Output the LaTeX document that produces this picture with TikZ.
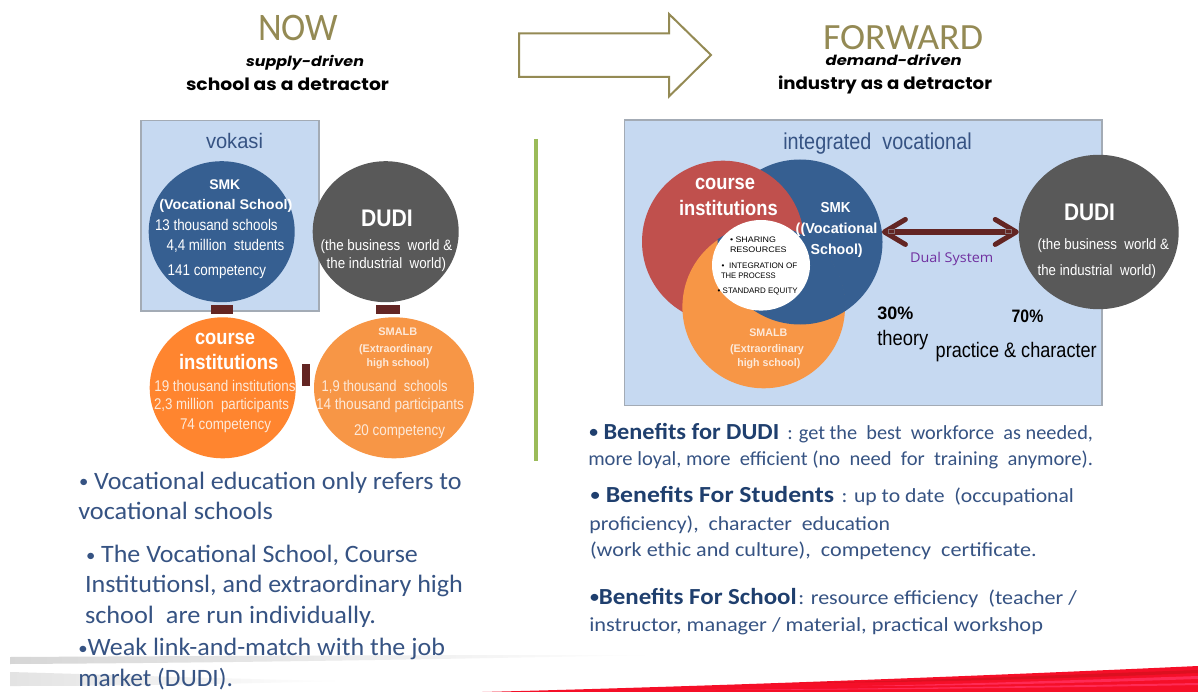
\documentclass[tikz,border=0pt]{standalone}
\usepackage{fontspec}
\usepackage{graphicx}
\usetikzlibrary{shapes.geometric,arrows.meta,calc}
\setmainfont{Liberation Sans}
\newfontfamily\carl{Carlito}
\newfontfamily\popp{Poppins}
\newfontfamily\opns{Open Sans}
\definecolor{olive}{HTML}{948A54}
\definecolor{bluec}{HTML}{365F91}
\definecolor{greyc}{HTML}{595959}
\definecolor{orangeA}{HTML}{FF852F}
\definecolor{orangeB}{HTML}{F79646}
\definecolor{redc}{HTML}{C0504D}
\definecolor{panel}{HTML}{C6D9F1}
\definecolor{panelb}{HTML}{A3ABB5}
\definecolor{maroon}{HTML}{632523}
\definecolor{pale}{HTML}{FDE9D9}
\definecolor{greenl}{HTML}{9BBB59}
\definecolor{bodyb}{HTML}{365383}
\definecolor{boldb}{HTML}{1F3F6E}
\definecolor{purp}{HTML}{7030A0}
\definecolor{swoosh}{HTML}{F50F28}
\definecolor{swooshA}{HTML}{FF2A55}
\definecolor{swooshB}{HTML}{DC1020}
\tikzset{
  txt/.style={anchor=base west,inner sep=0pt,outer sep=0pt},
  ar/.style={font=\fontsize{#1}{#1}\selectfont},
  arb/.style={font=\bfseries\fontsize{#1}{#1}\selectfont},
  car/.style={font=\carl\fontsize{#1}{#1}\selectfont},
  carb/.style={font=\carl\bfseries\fontsize{#1}{#1}\selectfont},
  blob/.style={ellipse,inner sep=0pt,outer sep=0pt,draw=none},
  panelbox/.style={fill=panel,draw=panelb,line width=1.6pt},
  barlink/.style={draw=maroon},
  bodyt/.style={car=#1,text=bodyb},
  boldt/.style={carb=#1,text=boldb},
  onc/.style={ar=#1,text=white},
  onp/.style={ar=#1,text=pale}
}
\newcommand\tl[6]{\node[txt,#5] (#1) at (#2,#3) {\resizebox{#4pt}{\height}{#6}};}
\newcommand\mbul{\raisebox{.12ex}{\scalebox{.72}{•}}}
\begin{document}
\begin{tikzpicture}[x=1pt,y=-1pt]
\useasboundingbox (0,0) rectangle (1198,692);
\fill[white] (0,0) rectangle (1198,692);
% bottom swoosh
\shade[left color=black!16,right color=white] (10,657) -- (10,664) .. controls (200,663) and (400,660) .. (652,655) .. controls (400,655) and (200,656) .. (10,657) -- cycle;
\shade[left color=black!11,right color=white] (10,672) -- (10,686) .. controls (120,686) and (230,684) .. (340,681) .. controls (230,679) and (120,675) .. (10,672) -- cycle;
\fill[swoosh] (482,692) .. controls (720,686) and (980,676) .. (1198,666) -- (1198,692) -- cycle;
\fill[swooshB] (800,683) .. controls (950,680) and (1080,674) .. (1198,670) -- (1198,673) .. controls (1080,678) and (950,682) .. (800,683) -- cycle;
\fill[swooshA] (860,686) .. controls (960,684) and (1080,680) .. (1198,676) -- (1198,679) .. controls (1080,683) and (960,686) .. (860,686) -- cycle;
\fill[swooshA] (700,690) .. controls (860,689) and (1040,686) .. (1198,683) -- (1198,685) .. controls (1040,688) and (860,690) .. (700,690) -- cycle;
% top
\tl{tNow}{258}{41}{80}{car=39,text=olive}{NOW}
\tl{tSupply}{246}{67}{118}{font=\popp\bfseries\itshape\fontsize{14}{14}\selectfont}{supply-driven}
\tl{tSchool}{186}{91}{203}{font=\popp\bfseries\fontsize{17}{17}\selectfont}{school as a detractor}
\tl{tForward}{823}{49.3}{160}{car=37,text=olive}{FORWARD}
\tl{tDemand}{825.7}{65.7}{136}{font=\popp\bfseries\itshape\fontsize{14}{14}\selectfont}{demand-driven}
\tl{tIndustry}{778}{90}{214}{font=\popp\bfseries\fontsize{17}{17}\selectfont}{industry as a detractor}
\draw[olive,line width=2pt,line join=miter,fill=white] (519,33.5) -- (669,33.5) -- (669,14) -- (711,55) -- (669,96.5) -- (669,77) -- (519,77) -- cycle;
\draw[greenl,line width=3.6pt] (536,139) -- (536,461);
% left panel
\fill[panelbox] (141,120.5) rectangle (319,311);
\tl{tVok}{206}{149}{57}{ar=21,text=bodyb}{vokasi}
\node[blob,fill=bluec,minimum width=146pt,minimum height=141pt] (smkL) at (221.7,231.7) {};
\node[blob,fill=greyc,minimum width=146pt,minimum height=141pt] (dudiL) at (385.7,231.7) {};
\node[blob,fill=orangeA,minimum width=146pt,minimum height=141pt] (courseL) at (222.7,387.8) {};
\node[blob,fill=orangeB,minimum width=160pt,minimum height=141pt] (smalbL) at (394,387.8) {};
\draw[barlink,line width=24pt] ([xshift=2.6pt,yshift=-3pt]dudiL.south) -- ([xshift=-5.7pt,yshift=3.2pt]smalbL.north);
\draw[barlink,line width=22pt] ([yshift=-3pt]smkL.south) -- ([xshift=-1pt,yshift=3.2pt]courseL.north);
\draw[barlink,line width=22pt] ([yshift=13pt,xshift=6.7pt]courseL.east) -- ([yshift=13pt,xshift=-4pt]smalbL.west);
\tl{a1}{209.3}{189.3}{31}{arb=14,text=white}{SMK}
\tl{a2}{159.3}{210}{133}{arb=14,text=white}{(Vocational School)}
\tl{a3}{155}{230.7}{122.7}{onc=15.5}{13 thousand schools}
\tl{a4}{166.7}{250.3}{117.6}{onc=15.5}{4,4 million\ \ students}
\tl{a5}{167.7}{275.7}{98.3}{onc=15.5}{141 competency}
\tl{b1}{361}{226.7}{51.7}{arb=24,text=white}{DUDI}
\tl{b2}{320.7}{250.3}{131.6}{onc=15}{(the business\ \ world \&}
\tl{b3}{326.7}{268.3}{119.3}{onc=15}{the industrial\ \ world)}
\tl{c1}{195}{344.3}{60}{arb=21,text=white}{course}
\tl{c2}{179}{369.3}{99.3}{arb=21,text=white}{institutions}
\tl{c3}{154.3}{391}{141.4}{onp=15.5}{19 thousand institutions}
\tl{c4}{154}{409.3}{135}{onp=15.5}{2,3 million\ \ participants}
\tl{c5}{180}{429}{91}{onp=15.5}{74 competency}
\tl{d1}{378.3}{335.7}{39}{arb=11,text=pale}{SMALB}
\tl{d2}{359}{352.7}{73.7}{arb=11,text=pale}{(Extraordinary}
\tl{d3}{366.7}{366.7}{62.6}{arb=11,text=pale}{high school)}
\tl{d4}{321.7}{391}{126}{onp=15.5}{1,9 thousand\ \ schools}
\tl{d5}{316}{409.3}{148}{onp=15.5}{14 thousand participants}
\tl{d6}{354}{435}{91}{onp=15.5}{20 competency}
% left text
\tl{l1}{79}{489.3}{382.7}{bodyt=25}{\mbul\ Vocational education only refers to}
\tl{l2}{78.3}{519.3}{194.7}{bodyt=25}{vocational schools}
\tl{l3}{86}{562.7}{332}{bodyt=25}{\mbul\ The Vocational School, Course}
\tl{l4}{85}{592.7}{378}{bodyt=25}{Institutionsl, and extraordinary high}
\tl{l5}{85}{623.3}{291}{bodyt=25}{school\ \ are run individually.}
\tl{l6}{78.3}{655.7}{366.7}{bodyt=25}{\mbul Weak link-and-match with the job}
\tl{l7}{78.3}{686}{154.7}{bodyt=25}{market (DUDI).}
% right panel
\fill[panelbox] (624.5,120) rectangle (1102,405.5);
\tl{tInt}{783.3}{150}{188.4}{ar=23,text=bodyb}{integrated\ \ vocational}
\node[blob,fill=bluec,minimum width=165pt,minimum height=165pt] (smkR) at (800,242) {};
\node[blob,fill=redc,minimum width=162pt,minimum height=162pt] (courseR) at (723,241.7) {};
\node[blob,fill=orangeB,minimum width=162.6pt,minimum height=162.6pt] (smalbR) at (763.7,307) {};
\begin{scope}
\clip (763.7,307) circle (81.9);
\fill[bluec] (800,242) circle (82.5);
\end{scope}
\node[blob,fill=white,minimum width=98pt,minimum height=90.6pt] (coreR) at (761,265.3) {};
\node[blob,fill=greyc,minimum width=160pt,minimum height=154.4pt] (dudiR) at (1098.7,232) {};
\draw[maroon,line width=5.5pt,{Straight Barb[length=21pt,width=25pt,line width=5pt,round]}-{Straight Barb[length=21pt,width=25pt,line width=5pt,round]}] (smkR.7.3) -- (smkR.7.3 -| dudiR.west);
\draw[panelb!55!maroon,line width=.4pt] (888,229.5) rectangle (894,233.5);
\draw[panelb!55!maroon,line width=.4pt] (1005,229.5) rectangle (1011,233.5);
\tl{e1}{695}{190}{60}{arb=21,text=white}{course}
\tl{e2}{679}{216}{98.7}{arb=21,text=white}{institutions}
\tl{f1}{820.7}{212.7}{30}{arb=14.5,text=white}{SMK}
\tl{f2}{795.7}{233.7}{81.6}{arb=14.5,text=white}{((Vocational}
\tl{f3}{810.7}{254.3}{52}{arb=14.5,text=white}{School)}
\tl{g1}{730}{242.3}{46}{ar=8,text=black}{• SHARING}
\tl{g2}{730}{252.3}{56.7}{ar=8,text=black}{RESOURCES}
\tl{g3}{721.7}{268.3}{75.6}{ar=8,text=black}{•\ \ INTEGRATION OF}
\tl{g4}{721}{278.3}{54.7}{ar=8,text=black}{THE PROCESS}
\tl{g5}{717.7}{294}{80}{ar=8,text=black}{•\ STANDARD EQUITY}
\tl{h1}{749.3}{336.7}{38}{arb=11,text=pale}{SMALB}
\tl{h2}{730}{352.3}{74}{arb=11,text=pale}{(Extraordinary}
\tl{h3}{737.3}{366.3}{63}{arb=11,text=pale}{high school)}
\tl{tDual}{910}{262.7}{83.3}{font=\opns\fontsize{13.5}{13.5}\selectfont,text=purp}{Dual System}
\tl{p1}{877.3}{319.3}{36}{arb=18,text=black}{30\%}
\tl{p2}{877.3}{345.7}{51}{ar=21,text=black}{theory}
\tl{p3}{1011.7}{322.3}{31.6}{arb=18,text=black}{70\%}
\tl{p4}{935.7}{357.3}{161}{ar=21,text=black}{practice \& character}
\tl{q1}{1064}{221}{51}{arb=24,text=white}{DUDI}
\tl{q2}{1037.7}{250}{131.3}{onc=15}{(the business\ \ world \&}
\tl{q3}{1037.7}{275.7}{118.3}{onc=15}{the industrial\ \ world)}
% right text
\tl{r1a}{589.3}{439.3}{190}{boldt=23}{\mbul\ Benefits for DUDI}
\tl{r1b}{787.3}{439.3}{305.7}{bodyt=20}{: get the\ \ best\ \ workforce\ \ as needed,}
\tl{r2}{588.3}{465}{504.7}{bodyt=20}{more loyal, more\ \ efficient (no\ \ need\ \ for\ \ training\ \ anymore).}
\tl{r3a}{590.7}{502.3}{243.3}{boldt=23}{\mbul\ Benefits For Students}
\tl{r3b}{841.7}{502.3}{232.3}{bodyt=20}{: up to date\ \ (occupational}
\tl{r4}{589.3}{530}{300.7}{bodyt=20}{proficiency),\ \ character\ \ education}
\tl{r5}{590}{556.7}{446.7}{bodyt=20}{(work ethic and culture),\ \ competency\ \ certificate.}
\tl{r6a}{590}{604.3}{206.7}{boldt=23}{\mbul Benefits For School}
\tl{r6b}{798.3}{604.3}{278.4}{bodyt=20}{: resource efficiency\ \ (teacher /}
\tl{r7}{589.3}{631.7}{453.7}{bodyt=20}{instructor, manager / material, practical workshop}
\end{tikzpicture}
\end{document}
